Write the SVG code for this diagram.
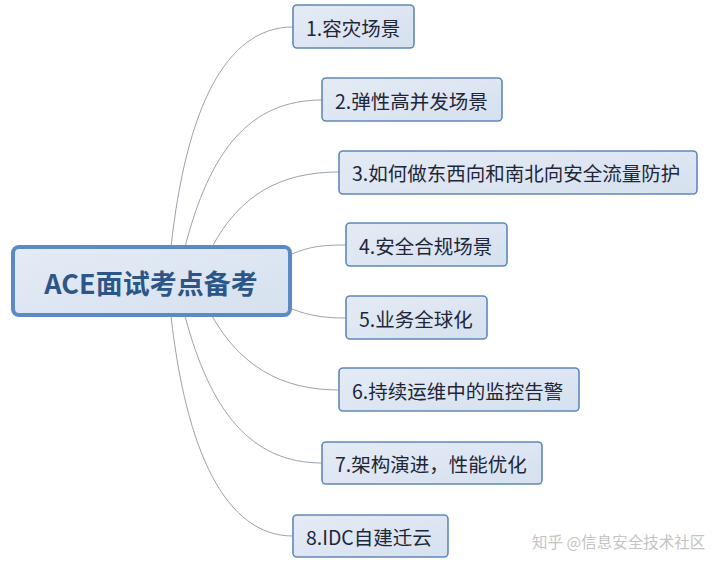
<svg xmlns="http://www.w3.org/2000/svg" width="720" height="571" viewBox="0 0 720 571">
<defs>
<linearGradient id="g" x1="0" y1="0" x2="1" y2="1">
<stop offset="0" stop-color="#e4ebf5"/>
<stop offset="1" stop-color="#d6e1ef"/>
</linearGradient>
<style>
.box{fill:url(#g);stroke:#6088b8;stroke-width:1.6}
.root{fill:url(#g);stroke:#5c8ac4;stroke-width:4}
.t{font-family:"Noto Sans CJK SC","Liberation Sans",sans-serif;font-size:19.5px;fill:#1e2638;dominant-baseline:central}
.rt{font-family:"Noto Sans CJK SC","Liberation Sans",sans-serif;font-size:27px;font-weight:bold;fill:#2d5688;text-anchor:middle;dominant-baseline:central}
.c{fill:none;stroke:#9aa3ad;stroke-width:1}
.wm{font-family:"Noto Sans CJK SC",sans-serif;font-size:15.5px;fill:#c4c4c4}
</style>
</defs>
<rect width="720" height="571" fill="#ffffff"/>
<g id="connectors">
<path class="c" d="M171,247 C186,110 225,27 293,27"/>
<path class="c" d="M185,247 C210,150 250,100 322,100"/>
<path class="c" d="M212,247 C240,195 280,172 339,172"/>
<path class="c" d="M292,254 C310,246 325,245 346,245"/>
<path class="c" d="M292,309 C310,316 325,318 346,318"/>
<path class="c" d="M212,316 C240,365 280,390 339,390"/>
<path class="c" d="M185,316 C210,410 250,463 322,463"/>
<path class="c" d="M171,316 C186,450 225,536 293,536"/>
</g>
<g id="root">
<rect class="root" x="13" y="247" width="277" height="68" rx="6"/>
<text class="rt" x="151" y="282">ACE面试考点备考</text>
</g>
<g id="n1">
<rect class="box" x="293" y="5" width="121" height="43" rx="4"/>
<text class="t" x="306" y="27">1.容灾场景</text>
</g>
<g id="n2">
<rect class="box" x="322" y="78" width="180" height="43" rx="4"/>
<text class="t" x="335" y="100">2.弹性高并发场景</text>
</g>
<g id="n3">
<rect class="box" x="339" y="151" width="358" height="43" rx="4"/>
<text class="t" x="352" y="172">3.如何做东西向和南北向安全流量防护</text>
</g>
<g id="n4">
<rect class="box" x="346" y="223" width="161" height="43" rx="4"/>
<text class="t" x="359" y="245">4.安全合规场景</text>
</g>
<g id="n5">
<rect class="box" x="346" y="296" width="141" height="43" rx="4"/>
<text class="t" x="359" y="318">5.业务全球化</text>
</g>
<g id="n6">
<rect class="box" x="339" y="368" width="240" height="43" rx="4"/>
<text class="t" x="352" y="390">6.持续运维中的监控告警</text>
</g>
<g id="n7">
<rect class="box" x="322" y="442" width="220" height="42" rx="4"/>
<text class="t" x="335" y="463">7.架构演进，性能优化</text>
</g>
<g id="n8">
<rect class="box" x="293" y="515" width="155" height="42" rx="4"/>
<text class="t" x="306" y="536">8.IDC自建迁云</text>
</g>
<text class="wm" x="532" y="548">知乎 @信息安全技术社区</text>
</svg>
